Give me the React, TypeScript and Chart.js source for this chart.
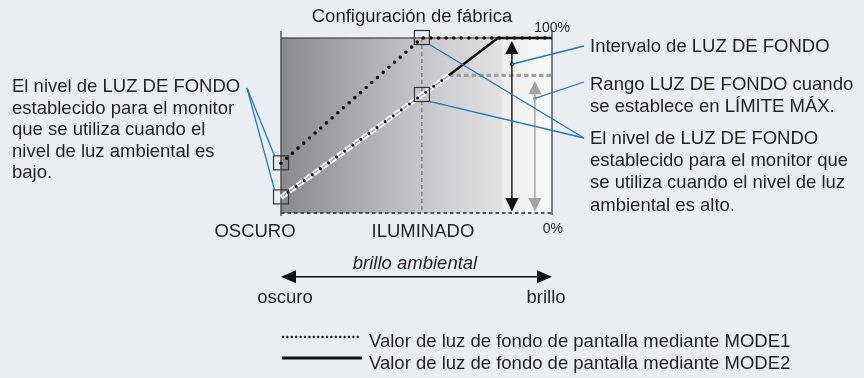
import { useEffect, useRef } from "react";
import { Chart, registerables } from "chart.js";

Chart.register(...registerables);

// ---------- data ----------
const ambientX = [0, 0.52, 1]; // ambient brightness positions (0 = dark, 1 = bright)
const mode1Y = [28.4, 100, 100]; // MODE1 backlight %
const mode2X = [0, 0.62, 0.8, 1];
const mode2Y = [8.9, 78.7, 100, 100]; // MODE2 backlight %
const limitMax = 78.7; // LÍMITE MÁX.
const illuminatedX = 0.52;
const rangeArrowX = 0.852;
const limitArrowX = 0.937;
const rangeDotY = 85;
const limitDotY = 65.5;

const titleText = "Configuración de fábrica";
const axisLabels = ["OSCURO", "ILUMINADO"];
const pctLabels = ["100%", "0%"];
const ambientLabel = "brillo ambiental";
const ambientEnds = ["oscuro", "brillo"];
const leftNote = [
  "El nivel de LUZ DE FONDO",
  "establecido para el monitor",
  "que se utiliza cuando el",
  "nivel de luz ambiental es",
  "bajo.",
];
const intervalNote = ["Intervalo de LUZ DE FONDO"];
const rangeNote = ["Rango LUZ DE FONDO cuando", "se establece en LÍMITE MÁX."];
const rightNote = [
  "El nivel de LUZ DE FONDO",
  "establecido para el monitor que",
  "se utiliza cuando el nivel de luz",
  "ambiental es alto.",
];
const legendLabels = [
  "Valor de luz de fondo de pantalla mediante MODE1",
  "Valor de luz de fondo de pantalla mediante MODE2",
];

const FONT = '"Liberation Sans", Arial, Helvetica, sans-serif';
const TEXT = "#231f20";
const BLUE = "#1f78c3";
const FS = 18.5;

const mode1Data = ambientX.map((x, i) => ({ x, y: mode1Y[i] }));
const mode2Low = mode2X.slice(0, 2).map((x, i) => ({ x, y: mode2Y[i] }));
const mode2High = mode2X.slice(1).map((x, i) => ({ x, y: mode2Y[i + 1] }));
const limitData = [
  { x: mode2X[1], y: limitMax },
  { x: 1, y: limitMax },
];

function line(ctx: CanvasRenderingContext2D, x1: number, y1: number, x2: number, y2: number) {
  ctx.beginPath();
  ctx.moveTo(x1, y1);
  ctx.lineTo(x2, y2);
  ctx.stroke();
}

function tri(ctx: CanvasRenderingContext2D, pts: number[][]) {
  ctx.beginPath();
  ctx.moveTo(pts[0][0], pts[0][1]);
  ctx.lineTo(pts[1][0], pts[1][1]);
  ctx.lineTo(pts[2][0], pts[2][1]);
  ctx.closePath();
  ctx.fill();
}

const overlay = {
  id: "overlay",
  beforeDatasetsDraw(chart: any) {
    const { ctx, chartArea: a, scales } = chart;
    const xs = scales.x;
    ctx.save();
    const g = ctx.createLinearGradient(a.left, 0, a.right, 0);
    g.addColorStop(0, "#8a8a8c");
    g.addColorStop(0.5, "#c5c5c7");
    g.addColorStop(0.81, "#e2e2e3");
    g.addColorStop(0.82, "#efefef");
    g.addColorStop(1, "#f8f8f8");
    ctx.fillStyle = g;
    ctx.fillRect(a.left, a.top, a.right - a.left, a.bottom - a.top);

    const xi = xs.getPixelForValue(illuminatedX);
    ctx.strokeStyle = "#5a5a5a";
    ctx.lineWidth = 1;
    ctx.setLineDash([4, 3]);
    line(ctx, xi, a.top, xi, a.bottom);

    ctx.setLineDash([]);
    ctx.strokeStyle = "#222";
    ctx.lineWidth = 1;
    line(ctx, a.left, a.top, a.right, a.top);

    ctx.setLineDash([3.5, 3]);
    ctx.lineWidth = 1.6;
    line(ctx, a.left, a.bottom, a.right, a.bottom);

    ctx.setLineDash([]);
    ctx.strokeStyle = "#4a4a4a";
    ctx.lineWidth = 1.4;
    line(ctx, a.left, a.top - 7, a.left, a.bottom + 3);
    line(ctx, a.right, a.top - 8, a.right, a.bottom + 2);
    ctx.restore();
  },
  afterDatasetsDraw(chart: any) {
    const { ctx, chartArea: a, scales } = chart;
    const xs = scales.x;
    const ys = scales.y;
    ctx.save();

    // range arrow (black)
    const bx = xs.getPixelForValue(rangeArrowX);
    const yTop = ys.getPixelForValue(100);
    const yBot = ys.getPixelForValue(0);
    ctx.strokeStyle = "#111";
    ctx.fillStyle = "#111";
    ctx.lineWidth = 1.4;
    line(ctx, bx, yTop + 10, bx, yBot - 10);
    tri(ctx, [[bx, yTop + 3], [bx - 6.5, yTop + 16], [bx + 6.5, yTop + 16]]);
    tri(ctx, [[bx, yBot - 1.5], [bx - 6.5, yBot - 15], [bx + 6.5, yBot - 15]]);
    ctx.beginPath();
    ctx.arc(bx, ys.getPixelForValue(rangeDotY), 2, 0, Math.PI * 2);
    ctx.fill();

    // limit arrow (gray)
    const gx = xs.getPixelForValue(limitArrowX);
    const yLim = ys.getPixelForValue(limitMax);
    ctx.strokeStyle = "#a3a3a3";
    ctx.fillStyle = "#a3a3a3";
    line(ctx, gx, yLim + 12, gx, yBot - 10);
    tri(ctx, [[gx, yLim + 6], [gx - 6.5, yLim + 19], [gx + 6.5, yLim + 19]]);
    tri(ctx, [[gx, yBot - 1.5], [gx - 6.5, yBot - 15], [gx + 6.5, yBot - 15]]);
    ctx.beginPath();
    ctx.arc(gx, ys.getPixelForValue(limitDotY), 2, 0, Math.PI * 2);
    ctx.fill();

    // squares
    const sq = [
      [0, mode1Y[0]],
      [0, mode2Y[0]],
      [illuminatedX, mode1Y[1]],
      [illuminatedX, mode2Y[0] + (mode2Y[1] - mode2Y[0]) * (illuminatedX / mode2X[1])],
    ].map(([vx, vy]) => [xs.getPixelForValue(vx), ys.getPixelForValue(vy)]);
    ctx.strokeStyle = "#333";
    ctx.lineWidth = 1.2;
    const h = 7.5;
    sq.forEach(([px, py]) => ctx.strokeRect(px - h, py - h, 2 * h, 2 * h - 1));

    // leader lines
    ctx.strokeStyle = BLUE;
    ctx.lineWidth = 1.3;
    line(ctx, 247, 88, sq[0][0] - h + 1, sq[0][1] - h);
    line(ctx, 247, 88, sq[1][0] - h + 1, sq[1][1] - h);
    line(ctx, 584, 138, sq[2][0] + h, sq[2][1] + h - 1);
    line(ctx, 584, 138, sq[3][0] + h, sq[3][1] + h - 1);
    line(ctx, 584, 46, bx, ys.getPixelForValue(rangeDotY));
    line(ctx, 584, 82, gx, ys.getPixelForValue(limitDotY));

    // ambient arrow
    const ay = 276.7;
    ctx.strokeStyle = "#111";
    ctx.fillStyle = "#111";
    ctx.lineWidth = 1.4;
    line(ctx, a.left + 10, ay, a.right - 10, ay);
    tri(ctx, [[a.left, ay], [a.left + 15, ay - 6.5], [a.left + 15, ay + 6.5]]);
    tri(ctx, [[a.right, ay], [a.right - 15, ay - 6.5], [a.right - 15, ay + 6.5]]);

    // legend lines
    ctx.setLineDash([0, 4.4]);
    ctx.lineCap = "round";
    ctx.lineWidth = 2.4;
    line(ctx, 283, 337, 362, 337);
    ctx.setLineDash([]);
    ctx.lineCap = "butt";
    ctx.lineWidth = 2.8;
    line(ctx, 282, 358, 362, 358);

    ctx.restore();
  },
  afterDraw(chart: any) {
    const { ctx, chartArea: a, scales } = chart;
    const xs = scales.x;
    ctx.save();
    ctx.fillStyle = TEXT;
    ctx.textBaseline = "alphabetic";
    ctx.font = `${FS}px ${FONT}`;
    ctx.textAlign = "center";
    ctx.fillText(titleText, 412, 22);
    ctx.fillText(axisLabels[0], a.left - 26, 237);
    ctx.fillText(axisLabels[1], xs.getPixelForValue(illuminatedX) + 1, 237);
    ctx.fillText(ambientEnds[0], a.left + 4, 303);
    ctx.fillText(ambientEnds[1], a.right - 6, 303);
    ctx.font = `italic ${FS}px ${FONT}`;
    ctx.fillText(ambientLabel, 415, 269);

    ctx.font = `14px ${FONT}`;
    ctx.textAlign = "right";
    ctx.fillText(pctLabels[0], 570, 32);
    ctx.fillText(pctLabels[1], 563, 233);

    ctx.font = `${FS}px ${FONT}`;
    ctx.textAlign = "left";
    leftNote.forEach((t, i) => ctx.fillText(t, 12, 92 + i * 21.6));
    intervalNote.forEach((t, i) => ctx.fillText(t, 590, 52 + i * 21.6));
    rangeNote.forEach((t, i) => ctx.fillText(t, 590, 90 + i * 21.6));
    rightNote.forEach((t, i) => ctx.fillText(t, 590, 143.5 + i * 22.4));
    ctx.fillText(legendLabels[0], 369, 346.5);
    ctx.fillText(legendLabels[1], 369, 368.5);
    ctx.restore();
  },
};

export default function App() {
  const ref = useRef<HTMLCanvasElement>(null);
  useEffect(() => {
    const canvas = ref.current!;
    const chart = new Chart(canvas, {
      type: "scatter",
      data: {
        datasets: [
          {
            label: "MODE2",
            data: mode2High,
            showLine: true,
            borderColor: "#111",
            borderWidth: 2.6,
            pointRadius: 0,
            clip: false,
            order: 1,
          } as any,
          {
            label: "MODE1",
            data: mode1Data,
            showLine: true,
            borderColor: "#111",
            borderWidth: 3.6,
            borderDash: [0, 7.6],
            borderCapStyle: "round",
            pointRadius: 0,
            clip: false,
            order: 2,
          },
          {
            label: "MODE2 (LÍMITE MÁX.) dots",
            data: mode2Low,
            showLine: true,
            borderColor: "#111",
            borderWidth: 2.8,
            borderDash: [0, 10],
            borderDashOffset: 1.25,
            borderCapStyle: "round",
            pointRadius: 0,
            clip: false,
            order: 3,
          },
          {
            label: "MODE2 (LÍMITE MÁX.) inner",
            data: mode2Low,
            showLine: true,
            borderColor: "#a2a2a4",
            borderWidth: 1.6,
            borderDash: [5, 5],
            borderDashOffset: -1.25,
            pointRadius: 0,
            clip: false,
            order: 4,
          },
          {
            label: "MODE2 (LÍMITE MÁX.)",
            data: mode2Low,
            showLine: true,
            borderColor: "#ffffff",
            borderWidth: 5,
            borderDash: [7.5, 2.5],
            pointRadius: 0,
            clip: false,
            order: 5,
          },
          {
            label: "LÍMITE MÁX.",
            data: limitData,
            showLine: true,
            borderColor: "#a0a0a0",
            borderWidth: 3.2,
            borderDash: [4.5, 3],
            pointRadius: 0,
            clip: false,
            order: 6,
          },
        ],
      },
      options: {
        responsive: false,
        animation: false,
        events: [],
        layout: { padding: { left: 281, right: 312, top: 38, bottom: 165 } },
        scales: {
          x: { type: "linear", min: 0, max: 1, display: false },
          y: { type: "linear", min: 0, max: 100, display: false },
        },
        plugins: { legend: { display: false }, tooltip: { enabled: false }, title: { display: false } },
      },
      plugins: [overlay],
    });
    return () => chart.destroy();
  }, []);
  return (
    <div style={{ position: "fixed", left: 0, top: 0, width: 864, height: 378, background: "#eaeef2" }}>
      <canvas ref={ref} width={864} height={378} style={{ display: "block" }} />
    </div>
  );
}
